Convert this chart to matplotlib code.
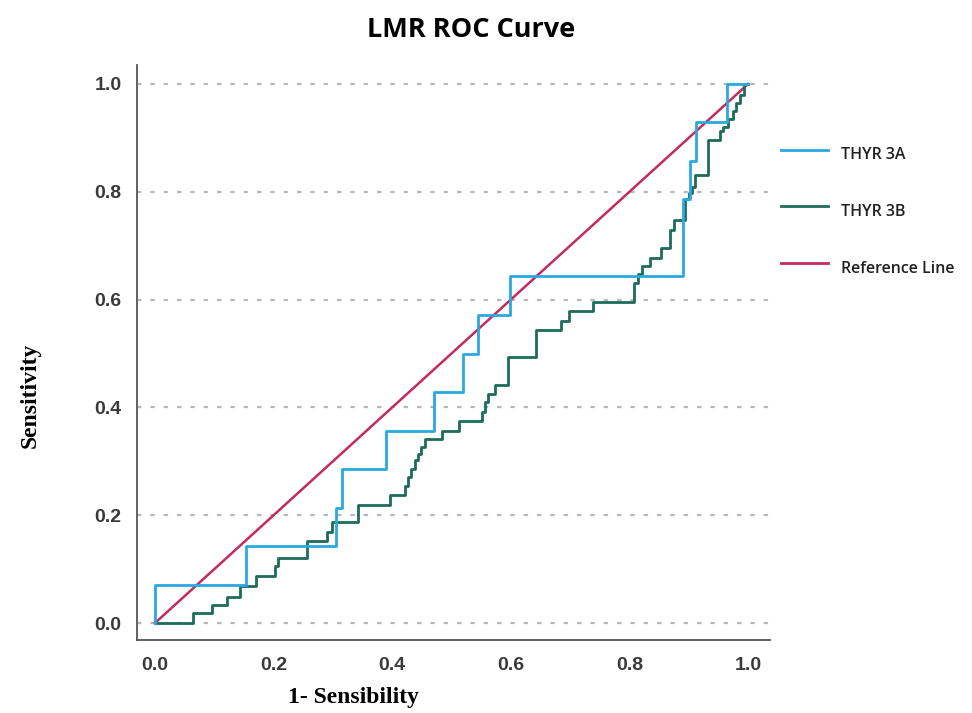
import matplotlib
matplotlib.use("Agg")
import matplotlib.pyplot as plt
from matplotlib.lines import Line2D

# ---- data ----
title = "LMR ROC Curve"
xlabel = "1- Sensibility"
ylabel = "Sensitivity"
ticks = [0.0, 0.2, 0.4, 0.6, 0.8, 1.0]
tick_labels = ["0.0", "0.2", "0.4", "0.6", "0.8", "1.0"]
series_names = ["THYR 3A", "THYR 3B", "Reference Line"]

thyr3a_fpr = [0.0, 0.0, 0.153, 0.153, 0.306, 0.306, 0.315, 0.315, 0.390, 0.390,
              0.470, 0.470, 0.520, 0.520, 0.544, 0.544, 0.599, 0.599, 0.891, 0.891,
              0.902, 0.902, 0.913, 0.913, 0.964, 0.964, 1.0]
thyr3a_tpr = [0.0, 0.071, 0.071, 0.143, 0.143, 0.214, 0.214, 0.286, 0.286, 0.357,
              0.357, 0.429, 0.429, 0.500, 0.500, 0.571, 0.571, 0.643, 0.643, 0.786,
              0.786, 0.857, 0.857, 0.929, 0.929, 1.0, 1.0]

thyr3b_fpr = [0.0, 0.064, 0.064, 0.096, 0.096, 0.122, 0.122, 0.143, 0.143, 0.171,
              0.171, 0.202, 0.202, 0.208, 0.208, 0.257, 0.257, 0.290, 0.290, 0.298,
              0.298, 0.343, 0.343, 0.396, 0.396, 0.422, 0.422, 0.427, 0.427, 0.431,
              0.431, 0.438, 0.438, 0.444, 0.444, 0.448, 0.448, 0.455, 0.455, 0.484,
              0.484, 0.512, 0.512, 0.551, 0.551, 0.556, 0.556, 0.562, 0.562, 0.574,
              0.574, 0.596, 0.596, 0.642, 0.642, 0.684, 0.684, 0.698, 0.698, 0.739,
              0.739, 0.808, 0.808, 0.815, 0.815, 0.822, 0.822, 0.835, 0.835, 0.854,
              0.854, 0.868, 0.868, 0.876, 0.876, 0.893, 0.893, 0.900, 0.900, 0.906,
              0.906, 0.910, 0.910, 0.933, 0.933, 0.952, 0.952, 0.958, 0.958, 0.966,
              0.966, 0.975, 0.975, 0.980, 0.980, 0.987, 0.987, 0.993, 0.993, 1.0]
thyr3b_tpr = [0.0, 0.0, 0.018, 0.018, 0.033, 0.033, 0.049, 0.049, 0.068, 0.068,
              0.088, 0.088, 0.105, 0.105, 0.120, 0.120, 0.152, 0.152, 0.169, 0.169,
              0.188, 0.188, 0.219, 0.219, 0.237, 0.237, 0.255, 0.255, 0.271, 0.271,
              0.286, 0.286, 0.302, 0.302, 0.314, 0.314, 0.327, 0.327, 0.341, 0.341,
              0.357, 0.357, 0.375, 0.375, 0.392, 0.392, 0.410, 0.410, 0.425, 0.425,
              0.441, 0.441, 0.494, 0.494, 0.544, 0.544, 0.561, 0.561, 0.578, 0.578,
              0.596, 0.596, 0.630, 0.630, 0.647, 0.647, 0.662, 0.662, 0.677, 0.677,
              0.696, 0.696, 0.730, 0.730, 0.747, 0.747, 0.786, 0.786, 0.797, 0.797,
              0.808, 0.808, 0.832, 0.832, 0.896, 0.896, 0.912, 0.912, 0.921, 0.921,
              0.935, 0.935, 0.950, 0.950, 0.965, 0.965, 0.980, 0.980, 1.0, 1.0]

ref_x = [0.0, 1.0]
ref_y = [0.0, 1.0]

colors = ["#2aa8df", "#1d6b58", "#c42a5e"]

# ---- figure ----
W, H = 972, 713
fig = plt.figure(figsize=(W / 100, H / 100), dpi=100)
ax = fig.add_axes([137 / W, 1 - 640 / H, (770 - 137) / W, (640 - 65) / H])

x0px, x1px = 155, 748
y0px, y1px = 623, 84
xs = (x1px - x0px)
ys = (y0px - y1px)
ax.set_xlim(-(x0px - 137) / xs, 1 + (770 - x1px) / xs)
ax.set_ylim(-(640 - y0px) / ys, 1 + (y1px - 65) / ys)

for t in ticks:
    ax.axhline(t, color="#b8b8b8", linestyle=(0, (2, 4)), linewidth=1.6, zorder=0)

ax.plot(ref_x, ref_y, color=colors[2], linewidth=1.8, zorder=2)
ax.plot(thyr3b_fpr, thyr3b_tpr, color=colors[1], linewidth=2.0, zorder=3)
ax.plot(thyr3a_fpr, thyr3a_tpr, color=colors[0], linewidth=2.0, zorder=4)

for s in ["top", "right"]:
    ax.spines[s].set_visible(False)
for s in ["left", "bottom"]:
    ax.spines[s].set_color("#555555")
    ax.spines[s].set_linewidth(1.3)

ax.set_xticks(ticks)
ax.set_xticklabels(tick_labels)
ax.set_yticks(ticks)
ax.set_yticklabels(tick_labels)
ax.tick_params(length=0, labelsize=14, colors="#3a3a3a")
ax.tick_params(axis="x", pad=12)
ax.tick_params(axis="y", pad=11)
for lab in ax.get_xticklabels() + ax.get_yticklabels():
    lab.set_family("Liberation Sans")
    lab.set_fontweight("bold")

fig.text(471 / W, 1 - 30 / H, title, ha="center", va="center",
         fontsize=19.5, fontweight="bold", family="Open Sans")
fig.text(353 / W, 1 - 697 / H, xlabel, ha="center", va="center",
         fontsize=17, fontweight="bold", family="Liberation Serif")
fig.text(30 / W, 1 - 395 / H, ylabel, ha="center", va="center", rotation=90,
         fontsize=17, fontweight="bold", family="Liberation Serif")

# legend (outside right)
leg_line_y = [150, 206, 263]
leg_text_y = [155, 212, 269]
for name, c, ly, ty in zip(series_names, colors, leg_line_y, leg_text_y):
    fig.add_artist(Line2D([781 / W, 828 / W], [1 - ly / H, 1 - ly / H],
                          color=c, linewidth=2.0, transform=fig.transFigure))
    fig.text(841 / W, 1 - ty / H, name, ha="left", va="center",
             fontsize=11.5, fontweight="semibold", family="Open Sans", color="#222222")

fig.savefig("out.png", dpi=100)
